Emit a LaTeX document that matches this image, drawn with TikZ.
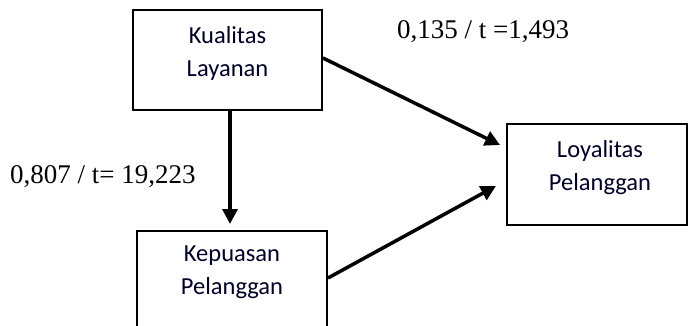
\documentclass[tikz,border=0pt]{standalone}
\usepackage{fontspec}
\setmainfont{Liberation Serif}
\newfontfamily\boxfont{Carlito}
\usetikzlibrary{arrows.meta,calc}
\tikzset{
  boxnode/.style={draw=black, line width=2pt, inner sep=0pt},
  boxtext/.style={font=\boxfont\fontsize{24.5}{33}\selectfont, align=center, inner sep=0pt, text=black!85!blue},
  coef/.style={font=\fontsize{27}{30}\selectfont, inner sep=0pt, anchor=west},
  arr/.style={line width=3.5pt, -{Triangle[length=15pt,width=15pt]}}
}
\begin{document}
\begin{tikzpicture}[x=1pt,y=-1pt]
\useasboundingbox (0,0) rectangle (688,326);
\begin{scope}
\clip (0,0) rectangle (688,326);
\node[boxnode, minimum width=189pt, minimum height=100pt] (K) at (227.5,60) {};
\node[boxnode, minimum width=180pt, minimum height=101pt] (L) at (597,174.5) {};
\node[boxnode, minimum width=190pt, minimum height=100pt] (P) at (232,281) {};
\end{scope}
\node[boxtext] (Kt) at ($(K.north)+(0,44)$) {Kualitas\\Layanan};
\node[boxtext] (Lt) at ($(L.north)+(3,45)$) {Loyalitas\\Pelanggan};
\node[boxtext] (Pt) at ($(P.north)+(0,42.5)$) {Kepuasan\\Pelanggan};
\coordinate (t1) at ($(L.west)+(-6,-29.5)$);
\coordinate (t2) at ($(L.west)+(-10,11.5)$);
\draw[arr] ($(K.east)+(0,-2)$) -- (t1);
\draw[arr] ($(P.east)+(0,-3)$) -- (t2);
\draw[arr] ($(K.south)+(2.5,0)$) -- ($(P.north)+(-2,-6)$);
\node[coef] (c1) at (397,32) {0,135 / t =1,493};
\node[coef] (c2) at (10,177) {0,807 / t= 19,223};
\end{tikzpicture}
\end{document}
